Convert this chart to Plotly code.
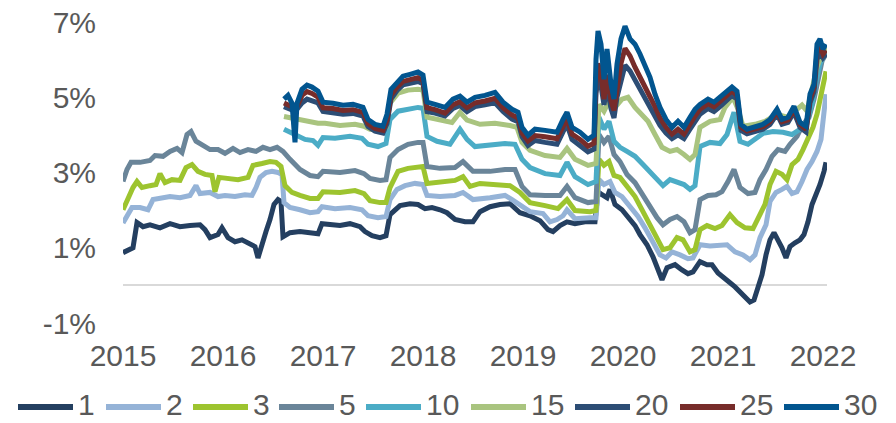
import plotly.graph_objects as go

# ---- data (decimal year, yield %) ----
x_1 = [2015.00,2015.05,2015.10,2015.14,2015.20,2015.27,2015.37,2015.47,2015.57,2015.67,2015.77,2015.82,2015.87,2015.95,2015.99,2016.05,2016.12,2016.19,2016.27,2016.32,2016.35,2016.38,2016.43,2016.47,2016.51,2016.55,2016.58,2016.60,2016.67,2016.77,2016.87,2016.95,2016.99,2017.07,2017.17,2017.27,2017.37,2017.42,2017.49,2017.57,2017.63,2017.67,2017.72,2017.77,2017.87,2017.95,2018.02,2018.09,2018.17,2018.24,2018.32,2018.42,2018.50,2018.57,2018.67,2018.77,2018.87,2018.97,2019.07,2019.17,2019.25,2019.30,2019.37,2019.44,2019.52,2019.62,2019.72,2019.75,2019.79,2019.84,2019.87,2019.92,2019.99,2020.05,2020.12,2020.17,2020.24,2020.30,2020.35,2020.39,2020.44,2020.52,2020.59,2020.65,2020.70,2020.77,2020.84,2020.89,2020.95,2021.02,2021.07,2021.12,2021.17,2021.22,2021.27,2021.31,2021.35,2021.39,2021.43,2021.47,2021.51,2021.55,2021.59,2021.63,2021.67,2021.72,2021.77,2021.81,2021.85,2021.89,2021.93,2021.97,2022.01,2022.03]
y_1 = [0.87,0.95,1.00,1.67,1.56,1.61,1.53,1.64,1.56,1.59,1.61,1.48,1.27,1.35,1.53,1.27,1.16,1.21,1.08,1.03,0.73,1.03,1.43,1.75,2.15,2.28,2.23,1.29,1.40,1.43,1.40,1.37,1.64,1.61,1.59,1.64,1.56,1.43,1.32,1.27,1.32,1.88,2.01,2.12,2.17,2.15,2.04,2.07,2.01,1.93,1.75,1.69,1.69,1.96,2.09,2.15,2.17,1.93,1.85,1.72,1.48,1.43,1.59,1.69,1.64,1.69,1.69,2.49,2.41,2.33,2.55,2.15,2.01,1.80,1.59,1.35,1.08,0.76,0.41,0.15,0.47,0.55,0.41,0.31,0.36,0.63,0.55,0.55,0.33,0.20,0.07,-0.04,-0.17,-0.31,-0.44,-0.39,-0.07,0.28,0.81,1.21,1.40,1.21,1.00,0.73,1.03,1.13,1.21,1.35,1.69,2.15,2.41,2.68,3.03,3.27]

x_2 = [2015.00,2015.05,2015.09,2015.17,2015.25,2015.30,2015.37,2015.47,2015.57,2015.67,2015.73,2015.77,2015.87,2015.95,2016.02,2016.12,2016.22,2016.29,2016.33,2016.37,2016.43,2016.49,2016.55,2016.59,2016.61,2016.67,2016.77,2016.87,2016.95,2016.99,2017.12,2017.27,2017.39,2017.45,2017.55,2017.63,2017.67,2017.74,2017.82,2017.92,2018.00,2018.04,2018.17,2018.32,2018.40,2018.50,2018.67,2018.82,2018.89,2018.97,2019.07,2019.20,2019.27,2019.34,2019.40,2019.44,2019.52,2019.67,2019.73,2019.76,2019.81,2019.87,2019.92,2019.99,2020.07,2020.15,2020.22,2020.29,2020.37,2020.43,2020.49,2020.57,2020.65,2020.70,2020.77,2020.87,2020.97,2021.04,2021.12,2021.20,2021.27,2021.32,2021.37,2021.43,2021.47,2021.53,2021.59,2021.64,2021.69,2021.74,2021.79,2021.84,2021.89,2021.94,2021.98,2022.01,2022.03]
y_2 = [1.66,1.88,2.07,2.07,2.01,2.28,2.31,2.36,2.33,2.39,2.65,2.44,2.47,2.36,2.39,2.36,2.41,2.39,2.60,2.87,3.00,3.03,3.00,2.95,2.20,2.07,2.01,1.93,1.96,2.09,2.04,2.07,2.01,1.85,1.80,1.83,2.28,2.55,2.65,2.71,2.68,2.39,2.36,2.39,2.47,2.28,2.33,2.39,2.28,2.15,1.96,1.91,1.69,1.75,1.85,2.01,1.77,1.80,1.80,2.81,2.68,2.76,2.47,2.36,2.09,1.83,1.53,1.21,0.81,0.73,0.89,0.81,0.71,0.73,1.08,1.05,1.05,1.08,0.89,0.81,0.68,0.81,1.27,1.61,2.23,2.47,2.55,2.63,2.44,2.49,2.76,3.08,3.29,3.56,3.88,4.55,5.08]

x_3 = [2015.00,2015.05,2015.10,2015.14,2015.19,2015.27,2015.33,2015.37,2015.42,2015.49,2015.57,2015.63,2015.69,2015.75,2015.82,2015.89,2015.92,2015.96,2016.05,2016.15,2016.25,2016.30,2016.39,2016.47,2016.53,2016.58,2016.62,2016.69,2016.77,2016.87,2016.95,2017.00,2017.17,2017.32,2017.41,2017.47,2017.57,2017.63,2017.67,2017.75,2017.85,2017.95,2018.00,2018.04,2018.17,2018.32,2018.40,2018.47,2018.57,2018.72,2018.87,2018.97,2019.07,2019.22,2019.35,2019.44,2019.52,2019.67,2019.73,2019.76,2019.81,2019.86,2019.91,2019.97,2020.04,2020.12,2020.20,2020.27,2020.34,2020.40,2020.47,2020.54,2020.60,2020.67,2020.72,2020.77,2020.84,2020.92,2020.99,2021.07,2021.14,2021.22,2021.30,2021.35,2021.42,2021.47,2021.53,2021.59,2021.64,2021.69,2021.75,2021.80,2021.85,2021.90,2021.94,2021.98,2022.01,2022.03]
y_3 = [2.01,2.33,2.60,2.76,2.60,2.65,2.68,2.97,2.73,2.81,2.79,3.13,3.21,3.03,2.95,2.92,2.49,2.87,2.84,2.81,2.87,3.19,3.24,3.29,3.27,3.16,2.65,2.47,2.39,2.31,2.31,2.49,2.47,2.52,2.44,2.25,2.20,2.20,2.60,3.03,3.11,3.16,3.16,2.71,2.76,2.79,2.89,2.63,2.71,2.68,2.65,2.47,2.20,2.12,2.04,2.28,1.99,1.96,1.99,3.35,3.19,3.29,2.92,2.87,2.65,2.36,1.96,1.61,1.21,0.95,1.00,1.27,1.21,0.89,0.95,1.48,1.59,1.51,1.59,1.88,1.67,1.53,1.51,1.80,2.15,2.68,3.03,2.95,2.81,3.21,3.35,3.61,3.93,4.20,4.55,5.03,5.40,5.69]

x_5 = [2015.00,2015.04,2015.08,2015.17,2015.27,2015.32,2015.40,2015.47,2015.54,2015.59,2015.64,2015.68,2015.73,2015.79,2015.87,2015.95,2016.02,2016.10,2016.17,2016.25,2016.33,2016.40,2016.47,2016.54,2016.60,2016.67,2016.77,2016.87,2016.95,2017.00,2017.17,2017.32,2017.41,2017.47,2017.57,2017.63,2017.67,2017.75,2017.85,2017.95,2018.00,2018.04,2018.17,2018.32,2018.40,2018.50,2018.67,2018.82,2018.92,2018.99,2019.07,2019.22,2019.37,2019.44,2019.52,2019.65,2019.73,2019.76,2019.81,2019.86,2019.91,2019.97,2020.04,2020.12,2020.20,2020.27,2020.34,2020.40,2020.47,2020.54,2020.61,2020.67,2020.72,2020.77,2020.85,2020.93,2020.99,2021.05,2021.11,2021.17,2021.25,2021.32,2021.37,2021.43,2021.49,2021.55,2021.62,2021.67,2021.74,2021.80,2021.86,2021.91,2021.95,2021.99,2022.03]
y_5 = [2.76,3.08,3.27,3.27,3.32,3.45,3.43,3.56,3.64,3.53,4.01,4.09,3.83,3.75,3.61,3.61,3.51,3.64,3.53,3.61,3.56,3.67,3.61,3.67,3.56,3.35,3.08,2.92,2.89,3.03,3.00,3.05,2.97,2.84,2.79,2.81,3.40,3.61,3.75,3.80,3.80,3.16,3.11,3.13,3.29,3.03,3.03,3.08,3.08,2.63,2.41,2.39,2.39,2.63,2.33,2.20,2.23,4.01,3.80,3.96,3.48,3.29,2.95,2.73,2.39,2.07,1.80,1.61,1.75,1.83,1.69,1.40,1.48,2.28,2.39,2.41,2.49,2.76,3.08,2.60,2.44,2.47,2.81,3.08,3.43,3.61,3.56,3.75,3.96,4.28,4.47,4.95,5.53,5.96,6.15]

x_10 = [2016.61,2016.67,2016.74,2016.82,2016.90,2016.95,2017.00,2017.12,2017.27,2017.39,2017.45,2017.55,2017.63,2017.67,2017.75,2017.85,2017.95,2018.00,2018.04,2018.14,2018.27,2018.37,2018.44,2018.52,2018.67,2018.82,2018.92,2018.99,2019.07,2019.22,2019.37,2019.44,2019.52,2019.65,2019.73,2019.76,2019.81,2019.86,2019.91,2019.97,2020.04,2020.12,2020.20,2020.27,2020.34,2020.40,2020.47,2020.54,2020.61,2020.67,2020.72,2020.77,2020.87,2020.97,2021.04,2021.11,2021.17,2021.25,2021.32,2021.40,2021.50,2021.60,2021.69,2021.77,2021.84,2021.89,2021.93,2021.97,2022.00,2022.03]
y_10 = [4.15,4.07,3.96,3.88,3.85,3.72,3.93,3.91,3.96,3.91,3.75,3.69,3.77,4.41,4.63,4.68,4.73,4.71,3.96,3.83,3.75,4.15,3.88,3.69,3.72,3.77,3.75,3.35,3.13,2.97,2.92,3.27,2.89,2.68,2.76,4.47,4.15,4.36,3.83,3.67,3.56,3.43,3.21,3.03,2.81,2.65,2.81,2.76,2.68,2.55,2.65,3.69,3.80,3.77,4.01,4.60,3.83,3.75,3.88,4.04,4.09,4.07,4.01,4.15,4.36,4.81,5.40,5.88,6.07,6.20]

x_15 = [2016.61,2016.69,2016.77,2016.87,2016.95,2017.02,2017.17,2017.32,2017.41,2017.47,2017.57,2017.63,2017.67,2017.75,2017.85,2017.95,2018.00,2018.04,2018.17,2018.29,2018.37,2018.44,2018.57,2018.72,2018.87,2018.94,2018.99,2019.07,2019.22,2019.37,2019.44,2019.52,2019.65,2019.73,2019.76,2019.81,2019.87,2019.92,2019.99,2020.05,2020.12,2020.19,2020.25,2020.32,2020.39,2020.47,2020.54,2020.61,2020.67,2020.72,2020.77,2020.87,2020.97,2021.02,2021.10,2021.15,2021.20,2021.32,2021.42,2021.54,2021.64,2021.72,2021.79,2021.84,2021.89,2021.94,2021.98,2022.01,2022.03]
y_15 = [4.49,4.44,4.39,4.36,4.31,4.31,4.25,4.28,4.23,4.15,4.12,4.20,4.84,5.11,5.19,5.21,5.19,4.47,4.39,4.33,4.60,4.39,4.28,4.31,4.25,4.20,3.80,3.59,3.45,3.40,3.64,3.35,3.19,3.24,4.81,4.63,4.95,4.73,4.95,5.00,4.73,4.52,4.36,4.01,3.67,3.56,3.61,3.48,3.35,3.48,4.20,4.36,4.41,4.73,5.00,4.68,4.23,4.28,4.36,4.55,4.47,4.63,4.79,4.63,5.27,5.80,6.09,6.28,6.33]

x_20 = [2016.61,2016.69,2016.74,2016.79,2016.84,2016.89,2016.95,2017.00,2017.10,2017.20,2017.30,2017.40,2017.45,2017.52,2017.60,2017.64,2017.68,2017.74,2017.80,2017.87,2017.95,2018.00,2018.04,2018.12,2018.22,2018.30,2018.37,2018.44,2018.52,2018.62,2018.72,2018.80,2018.89,2018.95,2018.99,2019.05,2019.12,2019.22,2019.34,2019.40,2019.44,2019.49,2019.57,2019.65,2019.71,2019.73,2019.75,2019.78,2019.81,2019.84,2019.88,2019.91,2019.94,2019.98,2020.02,2020.07,2020.12,2020.17,2020.22,2020.27,2020.32,2020.37,2020.43,2020.49,2020.55,2020.61,2020.67,2020.72,2020.77,2020.85,2020.91,2020.97,2021.03,2021.09,2021.14,2021.18,2021.24,2021.32,2021.40,2021.47,2021.54,2021.59,2021.65,2021.71,2021.77,2021.83,2021.87,2021.91,2021.94,2021.97,2022.00,2022.03]
y_20 = [4.75,4.66,4.68,4.85,4.95,4.92,4.85,4.62,4.60,4.55,4.57,4.50,4.22,4.10,4.05,4.30,4.95,5.18,5.33,5.38,5.42,5.36,4.62,4.58,4.50,4.70,4.78,4.62,4.75,4.80,4.85,4.62,4.42,4.35,3.95,3.72,3.85,3.80,3.75,4.08,4.28,3.88,3.72,3.55,3.62,5.10,5.50,5.30,4.80,5.30,4.70,4.45,5.00,5.50,5.85,5.70,5.45,5.20,5.00,4.75,4.50,4.25,4.05,3.90,4.00,3.90,4.15,4.35,4.55,4.70,4.62,4.75,4.90,5.05,4.95,4.12,4.03,4.10,4.15,4.28,4.55,4.28,4.33,4.60,4.20,4.08,4.85,5.15,6.00,6.20,6.05,6.15]

x_25 = [2016.61,2016.69,2016.74,2016.79,2016.84,2016.89,2016.95,2017.00,2017.10,2017.20,2017.30,2017.40,2017.45,2017.52,2017.60,2017.64,2017.68,2017.74,2017.80,2017.87,2017.95,2018.00,2018.04,2018.12,2018.22,2018.30,2018.37,2018.44,2018.52,2018.62,2018.72,2018.80,2018.89,2018.95,2018.99,2019.05,2019.12,2019.22,2019.34,2019.40,2019.44,2019.49,2019.57,2019.65,2019.71,2019.73,2019.75,2019.78,2019.81,2019.84,2019.88,2019.91,2019.94,2019.98,2020.02,2020.07,2020.12,2020.17,2020.22,2020.27,2020.32,2020.37,2020.43,2020.49,2020.55,2020.61,2020.67,2020.72,2020.77,2020.85,2020.91,2020.97,2021.03,2021.09,2021.14,2021.18,2021.24,2021.32,2021.40,2021.47,2021.54,2021.59,2021.65,2021.71,2021.77,2021.83,2021.87,2021.91,2021.94,2021.97,2022.00,2022.03]
y_25 = [4.85,4.75,4.75,5.05,5.15,5.10,5.00,4.72,4.70,4.65,4.67,4.60,4.30,4.17,4.12,4.40,5.05,5.27,5.42,5.47,5.52,5.45,4.72,4.67,4.58,4.80,4.88,4.72,4.85,4.90,4.97,4.72,4.53,4.45,4.05,3.84,3.98,3.95,3.90,4.22,4.42,4.02,3.88,3.70,3.78,5.40,5.90,5.60,4.95,5.60,4.90,4.65,5.30,5.90,6.30,6.10,5.80,5.55,5.30,5.05,4.75,4.45,4.20,4.02,4.15,4.02,4.30,4.50,4.68,4.83,4.75,4.88,5.02,5.17,5.05,4.20,4.10,4.17,4.22,4.35,4.62,4.35,4.40,4.68,4.28,4.15,4.95,5.25,6.20,6.35,6.15,6.25]

x_30 = [2016.61,2016.65,2016.69,2016.72,2016.74,2016.79,2016.84,2016.89,2016.95,2017.00,2017.10,2017.20,2017.30,2017.40,2017.45,2017.52,2017.60,2017.64,2017.68,2017.74,2017.80,2017.87,2017.95,2018.00,2018.04,2018.12,2018.22,2018.30,2018.37,2018.44,2018.52,2018.62,2018.72,2018.80,2018.89,2018.95,2018.99,2019.05,2019.12,2019.22,2019.34,2019.40,2019.44,2019.49,2019.57,2019.65,2019.71,2019.73,2019.75,2019.78,2019.81,2019.84,2019.88,2019.91,2019.94,2019.98,2020.02,2020.07,2020.12,2020.17,2020.22,2020.27,2020.32,2020.37,2020.43,2020.49,2020.55,2020.61,2020.67,2020.72,2020.77,2020.85,2020.91,2020.97,2021.03,2021.09,2021.14,2021.18,2021.24,2021.32,2021.40,2021.47,2021.54,2021.59,2021.65,2021.71,2021.77,2021.83,2021.87,2021.91,2021.94,2021.97,2022.00,2022.03]
y_30 = [4.95,5.05,4.84,3.80,4.84,5.21,5.32,5.27,5.16,4.87,4.84,4.79,4.81,4.73,4.41,4.28,4.23,4.55,5.21,5.40,5.56,5.61,5.67,5.59,4.87,4.81,4.73,4.95,5.03,4.87,5.00,5.05,5.13,4.87,4.68,4.60,4.20,3.99,4.15,4.12,4.07,4.41,4.60,4.20,4.07,3.88,3.99,6.01,6.76,6.41,5.48,6.28,5.35,4.95,5.88,6.55,6.89,6.55,6.41,6.15,5.80,5.53,5.08,4.73,4.41,4.20,4.36,4.20,4.47,4.68,4.81,4.95,4.87,5.00,5.13,5.27,5.16,4.28,4.15,4.23,4.28,4.41,4.68,4.41,4.47,4.76,4.33,4.23,5.08,5.35,6.41,6.55,6.28,6.41]

series_names = ["1", "2", "3", "5", "10", "15", "20", "25", "30"]
series_x = [x_1, x_2, x_3, x_5, x_10, x_15, x_20, x_25, x_30]
series_y = [y_1, y_2, y_3, y_5, y_10, y_15, y_20, y_25, y_30]
colors = ["#243F60", "#95B3D7", "#9DC42F", "#6A8599", "#4BACC6",
          "#A9C47F", "#2C4D75", "#772C2A", "#02558F"]

y_tickvals = [-1, 1, 3, 5, 7]
y_ticktext = ["-1%", "1%", "3%", "5%", "7%"]
x_tickvals = [2015, 2016, 2017, 2018, 2019, 2020, 2021, 2022]

FONT = "Liberation Sans, Arial, sans-serif"
GREY = "#595959"

W, H = 896, 423
ML, MR, MT, MB = 123, 69, 22, 100
PW, PH = W - ML - MR, H - MT - MB

fig = go.Figure()
for name, xs, ys, c in zip(series_names, series_x, series_y, colors):
    fig.add_trace(go.Scatter(x=xs, y=ys, mode="lines", name=name,
                             line=dict(color=c, width=5), showlegend=False))

# ---- legend built from shapes + text (matches the reference's long swatches) ----
leg_line_x0 = [18, 106, 193, 279, 366, 471, 575, 680, 784]   # px, swatch start
leg_line_len = 55
leg_y_px = 407
leg_text_y_px = 404
def px_x(p):
    return (p - ML) / PW
def px_y(p):
    return (H - MB - p) / PH

shapes, annotations = [], []
for name, c, x0 in zip(series_names, colors, leg_line_x0):
    shapes.append(dict(type="line", xref="paper", yref="paper",
                       x0=px_x(x0), x1=px_x(x0 + leg_line_len),
                       y0=px_y(leg_y_px), y1=px_y(leg_y_px),
                       line=dict(color=c, width=6)))
    annotations.append(dict(xref="paper", yref="paper", x=px_x(x0 + leg_line_len + 3),
                            y=px_y(leg_text_y_px), xanchor="left", yanchor="middle",
                            text=name, showarrow=False,
                            font=dict(family=FONT, size=30, color=GREY)))

fig.update_layout(
    width=W, height=H,
    margin=dict(l=ML, r=MR, t=MT, b=MB, autoexpand=False),
    plot_bgcolor="white", paper_bgcolor="white",
    font=dict(family=FONT, size=30, color=GREY),
    showlegend=False,
    hovermode=False,
    shapes=shapes, annotations=annotations,
)
fig.update_xaxes(range=[2015.0, 2022.04], tickvals=x_tickvals, tickformat="d",
                 showgrid=False, zeroline=False, showline=False, ticks="",
                 ticklabelstandoff=12, tickfont=dict(size=30, color=GREY))
fig.update_yaxes(range=[-1, 7], tickvals=y_tickvals, ticktext=y_ticktext,
                 showgrid=False, zeroline=True, zerolinecolor="#D9D9D9", zerolinewidth=2,
                 showline=False, ticks="", ticklabelstandoff=26,
                 tickfont=dict(size=30, color=GREY))

fig.write_html("out.html", config={"displayModeBar": False},
               post_script="document.body.style.margin='0';document.body.style.overflow='hidden';")
